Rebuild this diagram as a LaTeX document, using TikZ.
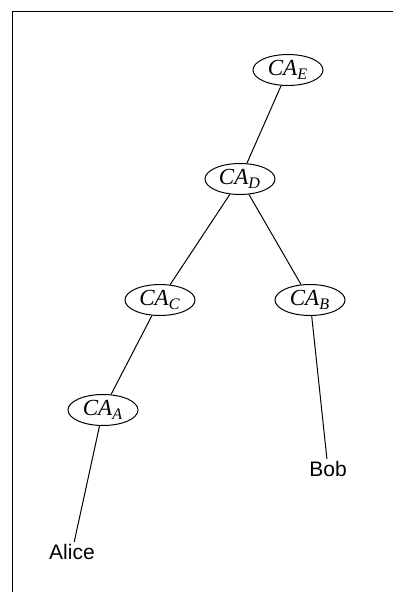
\documentclass[tikz,border=0pt]{standalone}
\usepackage{fontspec}
\setmainfont{Liberation Serif}
\newfontfamily\labelfont{Liberation Sans}
\usepackage{tikz}
\usetikzlibrary{shapes.geometric}

\newcommand{\caname}[1]{\textit{CA}\textsubscript{\textit{#1}}}

\begin{document}
\begin{tikzpicture}[
    x=0.5pt, y=-0.5pt,
    line width=0.5pt,
    ca/.style={draw, ellipse, inner sep=0pt,
               minimum width=35pt, minimum height=15.5pt,
               font=\fontsize{11.5}{13}\selectfont},
    person/.style={inner sep=1pt, font=\labelfont\fontsize{10.5}{12}\selectfont},
]
    \useasboundingbox (0,0) rectangle (393,592);

    % -- frame --------------------------------------
    \draw (393,12) -- (12,12) -- (12,592);

    % -- certificate authorities --------------------
    \node[ca] (caE) at (288,70)  {\caname{E}};
    \node[ca] (caD) at (240,179) {\caname{D}};
    \node[ca] (caC) at (160,300) {\caname{C}};
    \node[ca] (caB) at (310,300) {\caname{B}};
    \node[ca] (caA) at (103,410) {\caname{A}};

    % -- users --------------------------------------
    \node[person] (bob)   at (328,469) {Bob};
    \node[person] (alice) at (72,552)  {Alice};

    % -- hierarchy ----------------------------------
    \draw (caE) -- (caD);
    \draw (caD) -- (caC);
    \draw (caD) -- (caB);
    \draw (caC) -- (caA);
    \draw (caA) -- (alice);
    \draw (caB) -- (bob);
\end{tikzpicture}
\end{document}
